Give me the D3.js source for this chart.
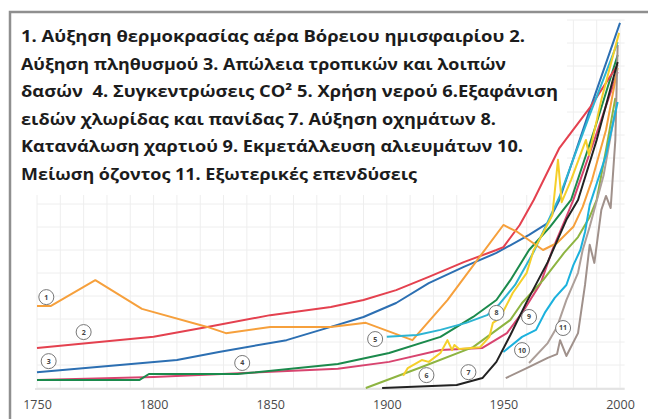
<!DOCTYPE html>
<html>
<head>
<meta charset="utf-8">
<script src="https://cdn.jsdelivr.net/npm/d3@7"></script>
<style>
  body { margin: 0; background: #fff; }
  svg { display: block; }
</style>
</head>
<body>
<div id="chart"></div>
<script>
// x axis ticks
var tickYears = [1750, 1800, 1850, 1900, 1950, 2000];

// title lines (Greek)
var titleLines = [
  "1. Αύξηση θερμοκρασίας αέρα Βόρειου ημισφαιρίου 2.",
  "Αύξηση πληθυσμού 3. Απώλεια τροπικών και λοιπών",
  "δασών  4. Συγκεντρώσεις CO² 5. Χρήση νερού 6.Εξαφάνιση",
  "ειδών χλωρίδας και πανίδας 7. Αύξηση οχημάτων 8.",
  "Κατανάλωση χαρτιού 9. Εκμετάλλευση αλιευμάτων 10.",
  "Μείωση όζοντος 11. Εξωτερικές επενδύσεις"
];

// series values [year, index value]
var s1 = [[1750,22.3],[1756,22.3],[1775,29.3],[1795,21.5],[1823,16.6],[1831,14.9],[1850,16.6],[1876,16.6],[1891,17.7],[1911,13.0],[1926,23.9],[1950,44.3],[1956,42.4],[1967,37.5],[1973,39.4],[1980,43.8],[1984,49.2],[1988,56.5],[1994,70.1],[1999,87.0]];
var s2 = [[1750,10.9],[1800,13.9],[1823,16.6],[1850,19.8],[1876,22.0],[1890,23.9],[1904,26.6],[1918,30.2],[1933,34.2],[1947,37.5],[1950,38.3],[1957,44.3],[1963,51.1],[1974,65.2],[1987,76.1],[1999,87.8]];
var s3 = [[1750,4.3],[1810,7.6],[1828,9.8],[1857,13.0],[1876,16.6],[1890,19.3],[1904,23.1],[1918,28.5],[1933,32.9],[1947,36.7],[1961,41.6],[1969,44.8],[1974,51.1],[1987,75.5],[2000,99.2]];
var s4 = [[1750,2.2],[1794,2.2],[1798,3.8],[1836,3.8],[1879,6.5],[1901,9.5],[1923,13.9],[1937,19.3],[1947,23.9],[1953,29.3],[1961,37.5],[1970,43.8],[1979,51.1],[1989,70.1],[1999,90.5]];
var s5 = [[1900,13.9],[1913,14.4],[1923,15.8],[1934,17.7],[1943,19.8],[1948,22.6],[1955,28.0],[1963,37.0],[1970,46.5],[1974,51.9],[1987,74.2],[1999,94.0]];
var s6 = [[1907,3.3],[1909,5.4],[1915,7.6],[1918,7.1],[1923,9.5],[1926,13.0],[1928,10.3],[1929,11.7],[1931,10.6],[1940,11.1],[1944,13.9],[1945.5,17.7],[1948.5,19.0],[1954,25.8],[1960,31.3],[1963,37.5],[1967,42.1],[1971,47.0],[1973.4,62.0],[1975,50.5],[1979,56.5],[1985.4,67.4],[1986.7,63.3],[1992,78.3],[1999.6,96.5]];
var s7 = [[1898,0],[1930,0.8],[1941,2.7],[1947,7.1],[1953,14.4],[1960,23.4],[1969,34.2],[1977,45.7],[1982,51.1],[1990,67.4],[1999,88.6]];
var s8 = [[1891,0],[1915,5.7],[1937,11.1],[1953,18.5],[1958,23.1],[1967,29.3],[1976,36.7],[1982,41.0],[1987,46.5],[1990,51.1],[1994,64.7],[1998,78.8]];
var s9 = [[1750,2.2],[1800,3.0],[1879,5.2],[1901,7.1],[1923,10.3],[1941,10.9],[1951.5,14.9],[1958,20.4],[1966,28.5],[1971,37.5],[1977,46.5],[1980,51.1],[1989,67.4],[1999,85.9]];
var s10 = [[1950,9.8],[1958,13.9],[1964,15.8],[1968,20.7],[1972,24.5],[1977,28.0],[1980,33.4],[1983,37.5],[1985,42.4],[1987,49.7],[1994,63.3],[1999,77.7]];
var s11 = [[1951,2.7],[1960,5.4],[1969,8.2],[1973,9.2],[1974.3,13.0],[1977,8.7],[1982,14.9],[1985,28.0],[1987,38.9],[1989,34.0],[1992,48.4],[1994,52.2],[1996,48.9],[1998,67.4],[1999,93.2]];
var s11b = [[1961,6.8],[1969,12.2],[1973,16.6],[1977,23.9],[1982,31.3],[1984,37.5],[1987,43.8],[1993,57.9],[1998,75.5]];

// numbered markers [label, year, value]
var markers = [["1",1754,24.7],["2",1770,15.2],["3",1755,7.3],["4",1838,6.8],["5",1895,13.3],["6",1917,3.5],["7",1935,4.3],["8",1947,20.4],["9",1961,19.3],["10",1958,10.3],["11",1975.6,16.3]];

var series = [
  {data: s9, color: "#d8446f"},
  {data: s4, color: "#1b8a4c"},
  {data: s3, color: "#2c6fb2"},
  {data: s2, color: "#e4414f"},
  {data: s1, color: "#f6a03c"},
  {data: s8, color: "#8db441"},
  {data: s11b, color: "#ad9f99"},
  {data: s11, color: "#a0918b"},
  {data: s10, color: "#1bb1dd"},
  {data: s5, color: "#2db4d2"},
  {data: s6, color: "#f5cf2a"},
  {data: s7, color: "#222222"}
];

var width = 648, height = 419;

var svg = d3.select("#chart").append("svg")
    .attr("width", width)
    .attr("height", height);

var x = d3.scaleLinear().domain([1750, 2000]).range([37, 620]);
var y = d3.scaleLinear().domain([0, 100]).range([388, 20]);

// faint grid
svg.append("g").selectAll("line.v")
    .data(d3.range(1750, 2001, 10))
    .enter().append("line")
    .attr("x1", d => x(d)).attr("x2", d => x(d))
    .attr("y1", y(100)).attr("y2", y(0))
    .attr("stroke", "#eeeeee").attr("stroke-width", 1);

svg.append("g").selectAll("line.h")
    .data(d3.range(0, 101, 6.25))
    .enter().append("line")
    .attr("x1", x(1750)).attr("x2", x(2002))
    .attr("y1", d => y(d)).attr("y2", d => y(d))
    .attr("stroke", "#eeeeee").attr("stroke-width", 1);

// baseline
svg.append("line")
    .attr("x1", x(1750) - 2).attr("x2", x(2002))
    .attr("y1", y(0) + 1).attr("y2", y(0) + 1)
    .attr("stroke", "#dddddd").attr("stroke-width", 1.5);

// x axis labels
var xAxis = d3.axisBottom(x).tickValues(tickYears).tickFormat(d3.format("d")).tickSize(0).tickPadding(12);
var gx = svg.append("g")
    .attr("transform", "translate(0," + y(0) + ")")
    .call(xAxis);
gx.select(".domain").remove();
gx.selectAll("text")
    .attr("font-family", "Open Sans, sans-serif")
    .attr("font-size", 12.5)
    .attr("fill", "#4a4a4a");

// title box
svg.append("rect")
    .attr("x", 12).attr("y", 15)
    .attr("width", 555).attr("height", 180)
    .attr("fill", "#fff");

var line = d3.line()
    .x(d => x(d[0]))
    .y(d => y(d[1]));

svg.append("g").selectAll("path")
    .data(series)
    .enter().append("path")
    .attr("d", d => line(d.data))
    .attr("fill", "none")
    .attr("stroke", d => d.color)
    .attr("stroke-width", 2)
    .attr("stroke-linejoin", "round");

// numbered circles
var mk = svg.append("g").selectAll("g")
    .data(markers)
    .enter().append("g")
    .attr("transform", d => "translate(" + x(d[1]) + "," + y(d[2]) + ")");
mk.append("circle")
    .attr("r", 7.5)
    .attr("fill", "#fff")
    .attr("stroke", "#777")
    .attr("stroke-width", 1);
mk.append("text")
    .attr("text-anchor", "middle")
    .attr("dy", "0.35em")
    .attr("font-family", "Open Sans, sans-serif")
    .attr("font-size", 7)
    .attr("font-weight", 700)
    .attr("fill", "#444")
    .text(d => d[0]);

// title text
var titleEnds = [525, 506, 558, 496, 523, 417];
svg.append("g").selectAll("text")
    .data(titleLines)
    .enter().append("text")
    .attr("x", 21)
    .attr("y", (d, i) => 42 + i * 27.5)
    .attr("font-family", "Open Sans, sans-serif")
    .attr("font-size", 16.5)
    .attr("font-weight", 700)
    .attr("fill", "#1c1c1c")
    .style("white-space", "pre")
    .attr("textLength", (d, i) => titleEnds[i] - 21)
    .attr("lengthAdjust", "spacingAndGlyphs")
    .text(d => d);

// outer frame
svg.append("rect")
    .attr("x", 10).attr("y", 12)
    .attr("width", 700).attr("height", 500)
    .attr("fill", "none")
    .attr("stroke", "#8f8f8f")
    .attr("stroke-width", 2.5);
</script>
</body>
</html>
